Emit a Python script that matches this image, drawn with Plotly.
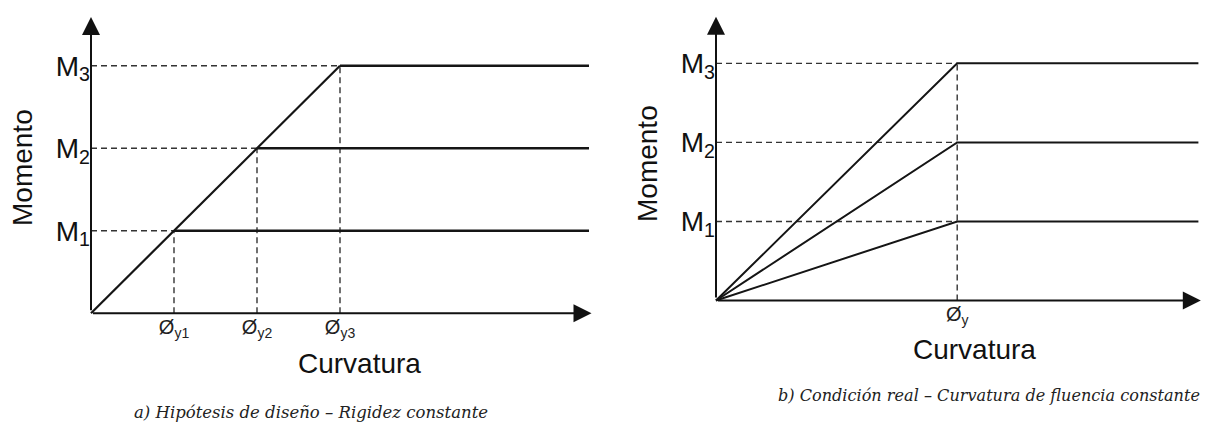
import plotly.graph_objects as go

# ---------------- data ----------------
moment_levels = [1, 2, 3]                 # M1, M2, M3
moment_labels = ["M<sub>1</sub>", "M<sub>2</sub>", "M<sub>3</sub>"]
phi_a = [1, 2, 3]                         # yield curvatures, panel a
phi_a_labels = ["Ø<sub>y1</sub>", "Ø<sub>y2</sub>", "Ø<sub>y3</sub>"]
phi_b = 3                                 # single yield curvature, panel b
phi_b_label = "Ø<sub>y</sub>"
x_end = 6                                 # end of plateaus
x_arrow = 6.03                            # x-axis arrow tip
y_arrow = 3.59                            # y-axis arrow tip

# ---------------- layout geometry (pixels) ----------------
W, H = 1202, 417
OFF = 8   # page body margin
panels = {
    "a": dict(ox=91, oy=313, s=83.0),
    "b": dict(ox=716, oy=300, s=80.4),
}
XR = (-0.45, 6.1)
YR = (-0.4, 3.7)

def px(x):
    return (x - OFF) / W

def py(y):
    return 1 - (y - OFF) / H

SOLID = "#151515"
DASH = "#333333"
FONT = "Liberation Sans, Arial, sans-serif"

fig = go.Figure()
layout_axes = {}
annotations = []

for i, key in enumerate(["a", "b"]):
    p = panels[key]
    ox, oy, s = p["ox"], p["oy"], p["s"]
    xn = "x" if i == 0 else "x2"
    yn = "y" if i == 0 else "y2"
    xa = "xaxis" if i == 0 else "xaxis2"
    ya = "yaxis" if i == 0 else "yaxis2"

    if key == "a":
        tvx, ttx = phi_a, phi_a_labels
    else:
        tvx, ttx = [phi_b], [phi_b_label]

    layout_axes[xa] = dict(
        domain=[px(ox + XR[0] * s), min(1, px(ox + XR[1] * s))],
        range=list(XR), anchor="free", position=py(oy),
        showgrid=False, zeroline=False, showline=False, ticks="",
        tickvals=tvx, ticktext=ttx,
        tickfont=dict(family=FONT, size=20, color="#222"),
        fixedrange=True,
    )
    layout_axes[ya] = dict(
        domain=[py(oy - YR[0] * s), min(1, py(oy - YR[1] * s))],
        range=list(YR), anchor="free", position=px(ox),
        showgrid=False, zeroline=False, showline=False, ticks="",
        tickvals=moment_levels, ticktext=moment_labels,
        tickfont=dict(family=FONT, size=28, color="#111"),
        ticklabelstandoff=1,
        fixedrange=True,
    )

    dash_style = dict(color=DASH, width=1.4, dash="6px,4px")
    if key == "a":
        for m, ph in zip(moment_levels, phi_a):
            fig.add_trace(go.Scatter(x=[0, ph], y=[m, m], mode="lines", line=dash_style,
                                     xaxis=xn, yaxis=yn, hoverinfo="skip", showlegend=False))
            fig.add_trace(go.Scatter(x=[ph, ph], y=[0, m], mode="lines", line=dash_style,
                                     xaxis=xn, yaxis=yn, hoverinfo="skip", showlegend=False))
        fig.add_trace(go.Scatter(x=[0, phi_a[-1]], y=[0, moment_levels[-1]], mode="lines",
                                 line=dict(color=SOLID, width=2.2),
                                 xaxis=xn, yaxis=yn, hoverinfo="skip", showlegend=False))
        for m, ph in zip(moment_levels, phi_a):
            fig.add_trace(go.Scatter(x=[ph, x_end], y=[m, m], mode="lines",
                                     line=dict(color=SOLID, width=2.4),
                                     xaxis=xn, yaxis=yn, hoverinfo="skip", showlegend=False))
    else:
        for m in moment_levels:
            fig.add_trace(go.Scatter(x=[0, phi_b], y=[m, m], mode="lines", line=dash_style,
                                     xaxis=xn, yaxis=yn, hoverinfo="skip", showlegend=False))
        fig.add_trace(go.Scatter(x=[phi_b, phi_b], y=[0, moment_levels[-1]], mode="lines",
                                 line=dash_style,
                                 xaxis=xn, yaxis=yn, hoverinfo="skip", showlegend=False))
        for m in moment_levels:
            fig.add_trace(go.Scatter(x=[0, phi_b, x_end], y=[0, m, m], mode="lines",
                                     line=dict(color=SOLID, width=2.0),
                                     xaxis=xn, yaxis=yn, hoverinfo="skip", showlegend=False))

    # axis arrows
    for (tx, ty) in [(x_arrow, 0), (0, y_arrow)]:
        annotations.append(dict(
            x=tx, y=ty, ax=0, ay=0, xref=xn, yref=yn, axref=xn, ayref=yn,
            text=" ", showarrow=True, arrowhead=2, arrowsize=1.8, arrowwidth=2,
            arrowcolor="#111", standoff=0, startstandoff=0,
            font=dict(size=2),
        ))

def txt(text, x, y, size, rot=0, family=FONT, color="#111"):
    annotations.append(dict(
        text=text, x=px(x), y=py(y), xref="paper", yref="paper",
        xanchor="center", yanchor="middle", showarrow=False, textangle=rot,
        font=dict(family=family, size=size, color=color),
    ))

txt("Momento", 22, 168, 28, rot=-90)
txt("Curvatura", 359, 363, 28)
txt("Momento", 647, 164, 28, rot=-90)
txt("Curvatura", 975, 349, 28)
CAP = "DejaVu Serif, serif"
txt("<i>a) Hipótesis de diseño – Rigidez constante</i>", 311, 412, 16.5, family=CAP, color="#222")
txt("<i>b) Condición real – Curvatura de fluencia constante</i>", 989, 395, 16.1, family=CAP, color="#222")

fig.update_layout(
    width=W, height=H,
    margin=dict(l=0, r=0, t=0, b=0),
    paper_bgcolor="white", plot_bgcolor="white",
    showlegend=False,
    annotations=annotations,
    **layout_axes,
)

fig.write_html("out.html", config={"displayModeBar": False})
